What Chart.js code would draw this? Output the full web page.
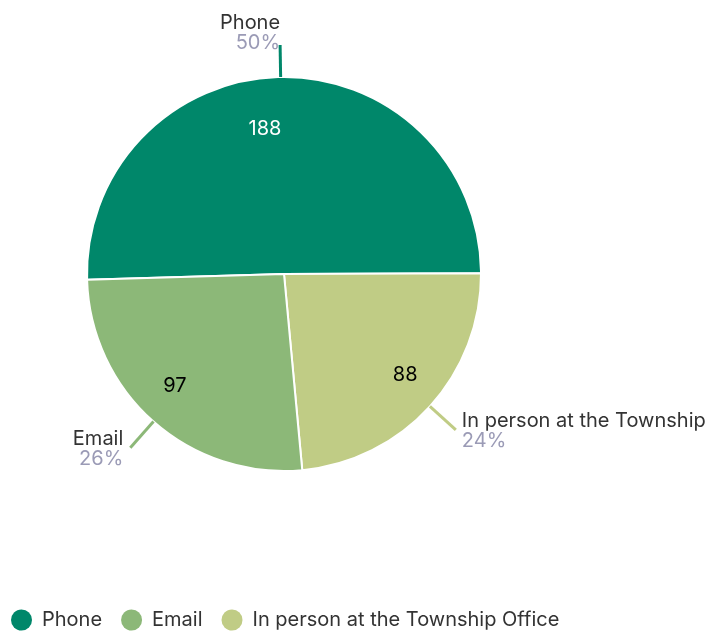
<!DOCTYPE html>
<html>
<head>
<meta charset="utf-8">
<script src="https://cdn.jsdelivr.net/npm/chart.js@4.4.0/dist/chart.umd.min.js"></script>
<style>
    html, body { margin: 0; padding: 0; background: #fff; }
    #wrap { width: 708px; height: 632px; }
</style>
</head>
<body>
<div id="wrap"><canvas id="chart"></canvas></div>
<script>
// legend order
const categories = ['Phone', 'Email', 'In person at the Township Office'];
const responses = [188, 97, 88];
const sliceColors = ['#00876a', '#8cb878', '#c0cc85'];
const valueColors = ['#ffffff', '#000000', '#000000'];
// slices go clockwise in this order
const drawOrder = [0, 2, 1];

const FONT = 'Inter, "Noto Sans", sans-serif';
const pieCenter = { x: 284, y: 274 };
const pieRadius = 198;

const total = responses.reduce((a, b) => a + b, 0);

// put the pie where the reference has it
const pieArea = {
    id: 'pieArea',
    afterLayout(chart) {
        chart.chartArea = {
            left: pieCenter.x - pieRadius,
            right: pieCenter.x + pieRadius,
            top: pieCenter.y - pieRadius,
            bottom: pieCenter.y + pieRadius,
            width: pieRadius * 2,
            height: pieRadius * 2
        };
    }
};

// values inside, name + share outside with a connector
const sliceLabels = {
    id: 'sliceLabels',
    afterDatasetsDraw(chart) {
        const ctx = chart.ctx;
        const meta = chart.getDatasetMeta(0);
        meta.data.forEach((arc, j) => {
            const i = drawOrder[j];
            const p = arc.getProps(['x', 'y', 'startAngle', 'endAngle', 'outerRadius'], true);
            const mid = (p.startAngle + p.endAngle) / 2;
            const cos = Math.cos(mid), sin = Math.sin(mid);
            const top = Math.abs(cos) < 0.2;

            ctx.save();
            ctx.font = '20px ' + FONT;
            ctx.textBaseline = 'middle';

            const ri = p.outerRadius - 50;
            ctx.fillStyle = valueColors[i];
            ctx.textAlign = cos < 0 ? 'right' : 'left';
            ctx.fillText(String(responses[i]), p.x + ri * cos, p.y + ri * sin + 2);

            const r0 = p.outerRadius, r1 = p.outerRadius + (top ? 32 : 35);
            const ex = p.x + r1 * cos, ey = p.y + r1 * sin;
            ctx.strokeStyle = sliceColors[i];
            ctx.lineWidth = 3;
            ctx.beginPath();
            ctx.moveTo(p.x + r0 * cos, p.y + r0 * sin);
            ctx.lineTo(ex, ey);
            ctx.stroke();

            let tx, y1, y2;
            if (top) {
                tx = ex;
                if (sin < 0) { y1 = ey - 22; y2 = ey - 2; }
                else { y1 = ey + 10; y2 = ey + 30; }
            } else {
                tx = ex + (cos < 0 ? -7 : 6);
                y1 = ey - 9; y2 = ey + 11;
            }
            ctx.textAlign = cos < 0 ? 'right' : 'left';
            ctx.fillStyle = '#333333';
            ctx.fillText(categories[i], tx, y1);
            ctx.fillStyle = '#9b9bb6';
            ctx.fillText(Math.round(responses[i] / total * 100) + '%', tx, y2);
            ctx.restore();
        });
    }
};

new Chart(document.getElementById('chart'), {
    type: 'pie',
    data: {
        labels: drawOrder.map(i => categories[i]),
        datasets: [{
            data: drawOrder.map(i => responses[i]),
            backgroundColor: drawOrder.map(i => sliceColors[i]),
            borderColor: '#ffffff',
            borderWidth: 2,
            clip: false
        }]
    },
    options: {
        responsive: true,
        maintainAspectRatio: false,
        animation: false,
        rotation: -91.7,
        layout: { padding: { left: -8, right: 0, top: 0, bottom: -8 } },
        plugins: {
            tooltip: { enabled: false },
            legend: {
                position: 'bottom',
                align: 'start',
                labels: {
                    usePointStyle: true,
                    pointStyle: 'circle',
                    boxHeight: 15,
                    pointStyleWidth: 21,
                    padding: 19,
                    color: '#333333',
                    font: { family: FONT, size: 20 },
                    generateLabels(chart) {
                        const items = Chart.overrides.pie.plugins.legend.labels.generateLabels(chart);
                        items.forEach(it => { it.lineWidth = 0; });
                        return items;
                    },
                    sort: (a, b) => categories.indexOf(a.text) - categories.indexOf(b.text)
                }
            }
        }
    },
    plugins: [pieArea, sliceLabels]
});
</script>
</body>
</html>
